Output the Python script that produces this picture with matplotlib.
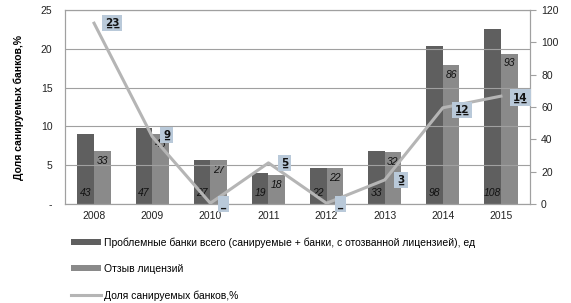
import matplotlib.pyplot as plt
import numpy as np

plt.rcParams['font.family'] = ['Liberation Sans', 'DejaVu Sans']

years = ['2008', '2009', '2010', '2011', '2012', '2013', '2014', '2015']
problem_banks = [43, 47, 27, 19, 22, 33, 98, 108]
revoked = [33, 43, 27, 18, 22, 32, 86, 93]
share = [23.3, 8.7, 0.1, 5.3, 0.1, 3.1, 12.4, 13.9]

name_problem = 'Проблемные банки всего (санируемые + банки, с отозванной лицензией), ед'
name_revoked = 'Отзыв лицензий'
name_share = 'Доля санируемых банков,%'

fig = plt.figure(figsize=(5.71, 3.03), dpi=100)
ax = fig.add_axes([65 / 571, 1 - 204 / 303, 465 / 571, 194 / 303])
ax2 = ax.twinx()

x = np.arange(len(years))
w = 0.285
b1 = ax2.bar(x - w / 2, problem_banks, w, color='#5f5f5f', zorder=2)
b2 = ax2.bar(x + w / 2, revoked, w, color='#8a8a8a', zorder=2)
ax2.set_ylim(0, 120)
ax2.set_yticks(range(0, 121, 20))

for i in range(len(years)):
    ax2.text(x[i] - w / 2, 4, str(problem_banks[i]), ha='center', va='bottom',
             fontsize=7.5, style='italic', color='#111111')
    ax2.text(x[i] + w / 2, revoked[i] - 3, str(revoked[i]), ha='center', va='top',
             fontsize=7.5, style='italic', color='#111111')

# line goes on the left axis, drawn over the bars
ax.set_zorder(ax2.get_zorder() + 1)
ax.patch.set_visible(False)
ax.plot(x, share, color='#b5b5b5', lw=2.2, zorder=3)
ax.set_ylim(0, 25)
ax.set_yticks([0, 5, 10, 15, 20, 25])
ax.set_yticklabels(['-', '5', '10', '15', '20', '25'])
ax.set_xlim(-0.5, len(years) - 0.5)
ax.set_xticks(x)
ax.set_xticklabels(years)
ax.set_ylabel('Доля санируемых банков,%', fontsize=7.5, fontweight='bold', labelpad=12)
ax.grid(axis='y', color='#a0a0a0', lw=0.8, zorder=0)

offsets = [(0.31, 0.0), (0.25, 0.2), (0.23, -0.1), (0.28, 0.0), (0.24, -0.1),
           (0.28, 0.0), (0.33, -0.3), (0.33, -0.2)]
for i, v in enumerate(share):
    lab = '_' if round(v) == 0 else str(int(round(v)))
    lab = ''.join(c + '\u0332' for c in lab) if lab != '_' else lab
    dx, dy = offsets[i]
    ax.text(x[i] + dx, v + dy, lab, ha='center', va='center', fontsize=7.5,
            fontweight='bold', color='#111111', family='DejaVu Sans', clip_on=False,
            bbox=dict(boxstyle='square,pad=0.3', fc='#b9c9d9', ec='none'), zorder=5)

for a in (ax, ax2):
    a.tick_params(length=0, labelsize=7.5, colors='#222222')
    for s in a.spines.values():
        s.set_color('#a0a0a0')
        s.set_linewidth(0.8)
ax.tick_params(axis='y', pad=9)
ax.tick_params(axis='x', pad=5)
ax2.tick_params(axis='y', length=4, color='#a0a0a0', pad=4)

handles = [b1, b2, ax.lines[0]]
fig.legend(handles, [name_problem, name_revoked, name_share], loc='upper left',
           bbox_to_anchor=(62 / 571, 1 - 228 / 303), frameon=False, fontsize=7.5,
           labelspacing=1.55, handlelength=2.8, handleheight=0.5, handletextpad=0.3)

fig.savefig('out.png', dpi=100)
